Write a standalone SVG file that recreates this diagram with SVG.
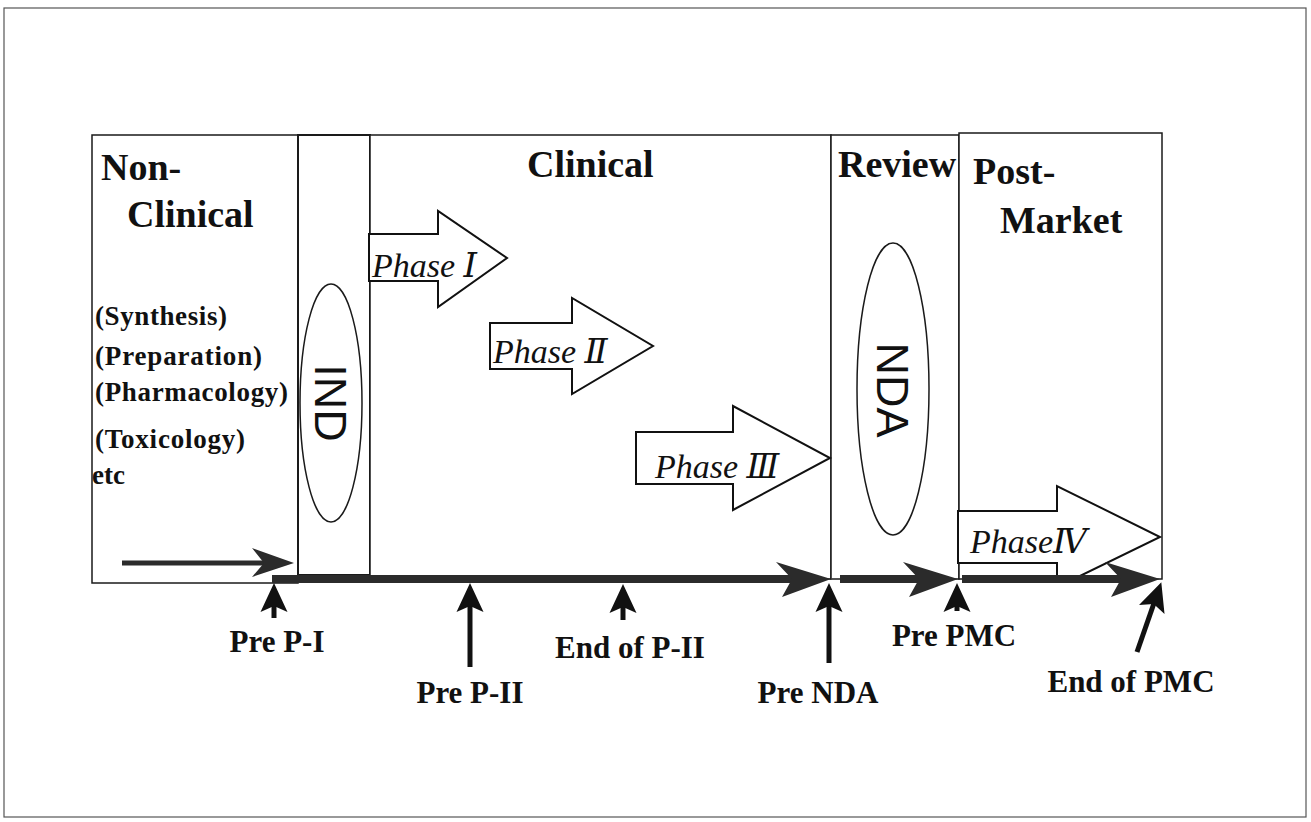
<svg xmlns="http://www.w3.org/2000/svg" width="1311" height="822" viewBox="0 0 1311 822">
<style>
.box{fill:#fff;stroke:#1a1a1a;stroke-width:1.5}
.frame{fill:none;stroke:#555;stroke-width:1.2}
.title{font-family:"Liberation Serif","Times New Roman",serif;font-weight:bold;font-size:38px;fill:#111}
.list{font-family:"Liberation Serif","Times New Roman",serif;font-weight:bold;font-size:27px;fill:#111}
.phase{font-family:"Liberation Serif","DejaVu Serif","Noto Sans CJK JP",serif;font-style:italic;font-size:34px;fill:#111}
.oval{fill:#fff;stroke:#1a1a1a;stroke-width:1.5}
.ovaltext{font-family:"Liberation Sans",Arial,sans-serif;font-size:45px;fill:#111}
.blk{fill:#fff;stroke:#111;stroke-width:2}
.bar{stroke:#2b2b2b;stroke-width:8;fill:none}
.small{stroke:#2b2b2b;stroke-width:5;fill:none}
.up{stroke:#111;stroke-width:5;fill:none}
.lbl{font-family:"Liberation Serif","Times New Roman",serif;font-weight:bold;font-size:31px;fill:#111;text-anchor:middle}
</style>
<defs>
<marker id="bighead" markerUnits="userSpaceOnUse" viewBox="-26 -19 58 38" refX="0" refY="0" markerWidth="58" markerHeight="38" orient="auto">
<path d="M31,0 L-24,-17 L-8,0 L-18,18 Z" fill="#2b2b2b"/>
</marker>
<marker id="smallhead" markerUnits="userSpaceOnUse" viewBox="-20 -16 46 32" refX="0" refY="0" markerWidth="46" markerHeight="32" orient="auto">
<path d="M24,0 L-18,-15 L-6,0 L-18,14 Z" fill="#2b2b2b"/>
</marker>
<marker id="uphead" markerUnits="userSpaceOnUse" viewBox="-10 -15 32 30" refX="0" refY="0" markerWidth="32" markerHeight="30" orient="auto">
<path d="M21,0 L-8,-13.5 L-2,0 L-8,13.5 Z" fill="#111"/>
</marker>
</defs>

<rect class="frame" x="4" y="8" width="1302" height="809"/>

<g id="non-clinical">
<rect class="box" x="92" y="135" width="206" height="448"/>
<text class="title" x="101" y="180">Non-</text>
<text class="title" x="127" y="227">Clinical</text>
<text class="list" x="95" y="325" textLength="132" lengthAdjust="spacing">(Synthesis)</text>
<text class="list" x="95" y="365" textLength="167" lengthAdjust="spacing">(Preparation)</text>
<text class="list" x="95" y="401" textLength="193" lengthAdjust="spacing">(Pharmacology)</text>
<text class="list" x="95" y="448" textLength="150" lengthAdjust="spacing">(Toxicology)</text>
<text class="list" x="92" y="484">etc</text>
</g>

<g id="ind">
<rect class="box" x="298" y="135" width="72" height="440" style="stroke-width:2"/>
<ellipse class="oval" cx="331" cy="403" rx="31" ry="119"/>
<text class="ovaltext" transform="translate(331,403) rotate(90)" x="0" y="16" text-anchor="middle">IND</text>
</g>

<g id="clinical">
<rect class="box" x="370" y="135" width="461" height="444"/>
<text class="title" x="527" y="177">Clinical</text>
</g>

<g id="review">
<rect class="box" x="831" y="135" width="128" height="444"/>
<text class="title" x="838" y="177">Review</text>
<ellipse class="oval" cx="893" cy="389" rx="36" ry="146"/>
<text class="ovaltext" transform="translate(893,390) rotate(90)" x="0" y="16" text-anchor="middle">NDA</text>
</g>

<g id="post-market">
<rect class="box" x="959" y="133" width="203" height="446"/>
<text class="title" x="973" y="184">Post-</text>
<text class="title" x="1000" y="233">Market</text>
</g>

<g id="phase1">
<polygon class="blk" points="369,234 438,234 438,211 507,258 438,307 438,281 369,281"/>
<text class="phase" x="372" y="277">Phase Ⅰ</text>
</g>
<g id="phase2">
<polygon class="blk" points="490,323 572,323 572,298 653,346 572,394 572,369 490,369"/>
<text class="phase" x="493" y="363">Phase Ⅱ</text>
</g>
<g id="phase3">
<polygon class="blk" points="636,432 733,432 733,406 830,458 733,510 733,484 636,484"/>
<text class="phase" x="655" y="478">Phase Ⅲ</text>
</g>
<g id="phase4">
<polygon class="blk" points="958,511 1057,511 1057,486 1160,537 1080,576 1057,576 1057,563 958,563"/>
<text class="phase" x="970" y="553">PhaseⅣ</text>
</g>

<g id="connectors">
<line class="small" x1="122" y1="563" x2="270" y2="563" marker-end="url(#smallhead)"/>
<line class="bar" x1="272" y1="579" x2="800" y2="579" marker-end="url(#bighead)"/>
<line x1="831" y1="579" x2="840" y2="579" stroke="#555" stroke-width="1"/>
<line class="bar" x1="840" y1="579" x2="927" y2="579" marker-end="url(#bighead)"/>
<line class="bar" x1="962" y1="579" x2="1129" y2="579" marker-end="url(#bighead)"/>
<line class="up" x1="274" y1="618" x2="274" y2="604" marker-end="url(#uphead)"/>
<line class="up" x1="470" y1="667" x2="470" y2="604" marker-end="url(#uphead)"/>
<line class="up" x1="623" y1="620" x2="623" y2="605" marker-end="url(#uphead)"/>
<line class="up" x1="829" y1="663" x2="829" y2="604" marker-end="url(#uphead)"/>
<line class="up" x1="957" y1="611" x2="957" y2="604" marker-end="url(#uphead)"/>
<line class="up" x1="1137" y1="652" x2="1154.4" y2="602" marker-end="url(#uphead)"/>
</g>

<g id="labels">
<text class="lbl" x="277" y="652">Pre P-I</text>
<text class="lbl" x="470" y="703">Pre P-II</text>
<text class="lbl" x="630" y="658">End of P-II</text>
<text class="lbl" x="818" y="703">Pre NDA</text>
<text class="lbl" x="954" y="646">Pre PMC</text>
<text class="lbl" x="1131" y="692">End of PMC</text>
</g>
</svg>
